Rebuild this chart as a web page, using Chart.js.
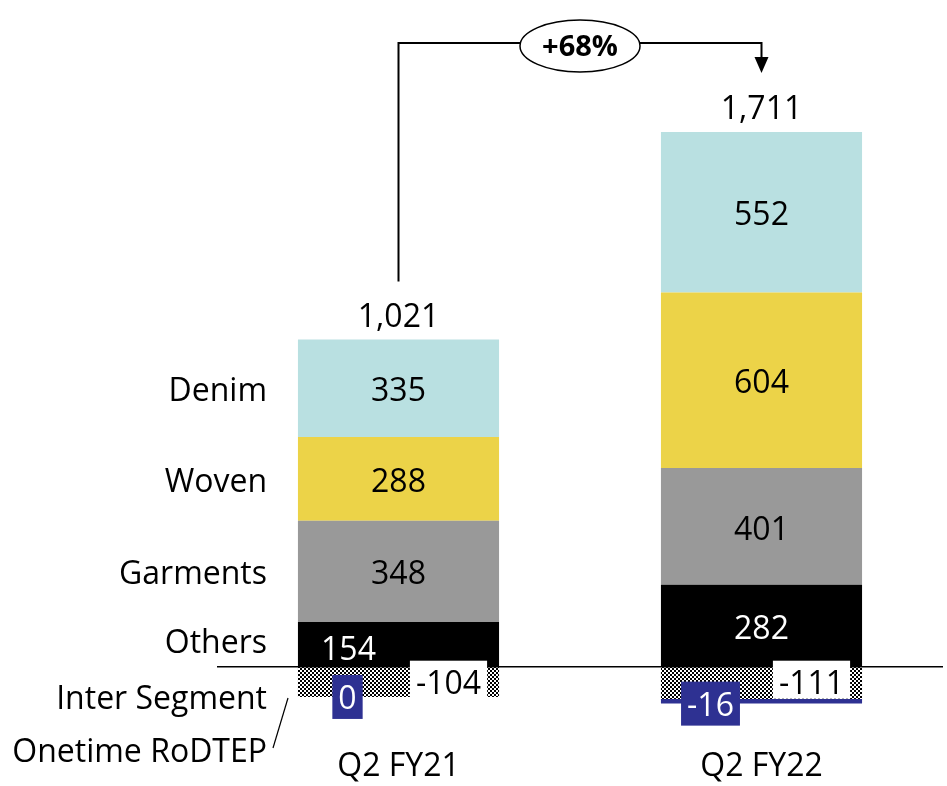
<!DOCTYPE html>
<html>
<head>
<meta charset="utf-8">
<script src="https://cdn.jsdelivr.net/npm/chart.js@4/dist/chart.umd.min.js"></script>
<style>
  html, body { margin: 0; padding: 0; background: #fff; }
  #wrap { width: 947px; height: 786px; }
</style>
</head>
<body>
<div id="wrap"><canvas id="revChart" width="947" height="786"></canvas></div>
<script>
// data
const quarters = ['Q2 FY21', 'Q2 FY22'];
const others = [154, 282];
const garments = [348, 401];
const woven = [288, 604];
const denim = [335, 552];
const interSegment = [-104, -111];
const rodtep = [0, -16];
const totals = [1021, 1711];
const growthLabel = '+68%';

const FONT = '"Open Sans", Lato, sans-serif';
const TY = 4; // baseline nudge for Open Sans vs original font

// checkered fill for inter segment
function checkerPattern() {
    const c = document.createElement('canvas');
    c.width = 4; c.height = 4;
    const g = c.getContext('2d');
    g.fillStyle = '#fff';
    g.fillRect(0, 0, 4, 4);
    g.fillStyle = '#000';
    g.fillRect(0, 0, 2, 2);
    g.fillRect(2, 2, 2, 2);
    return g.createPattern(c, 'repeat');
}

const ctx = document.getElementById('revChart').getContext('2d');

function fmt(n) {
    return n.toLocaleString('en-US');
}

const labelsPlugin = {
    id: 'labelsPlugin',
    afterDatasetsDraw(chart) {
        const c = chart.ctx;
        const area = chart.chartArea;
        const y = chart.scales.y;
        const x = chart.scales.x;
        const zeroY = y.getPixelForValue(0);

        c.save();
        // zero line
        c.strokeStyle = '#000';
        c.lineWidth = 1.5;
        c.beginPath();
        c.moveTo(area.left, zeroY);
        c.lineTo(area.right, zeroY);
        c.stroke();

        c.font = '32px ' + FONT;
        c.textAlign = 'center';
        c.textBaseline = 'middle';

        // positive segments
        for (let d = 0; d < 4; d++) {
            const meta = chart.getDatasetMeta(d);
            meta.data.forEach((el, i) => {
                const v = chart.data.datasets[d].data[i];
                let lx = el.x, ly = (el.y + el.base) / 2;
                // thin segment: label pushed aside like the original
                if (el.base - el.y < 60) { lx -= 50; ly += 3; }
                c.fillStyle = d === 0 ? '#fff' : '#000';
                c.fillText(fmt(v), lx, ly + TY);
            });
        }

        // inter segment: white box to the right
        const metaIs = chart.getDatasetMeta(4);
        const metaRd = chart.getDatasetMeta(5);
        metaIs.data.forEach((el, i) => {
            const txt = fmt(interSegment[i]);
            const cx = el.x + 50;
            const w = c.measureText(txt).width + 12;
            c.fillStyle = '#fff';
            c.fillRect(cx - w / 2, zeroY - 6, w, 38);
            c.fillStyle = '#000';
            c.fillText(txt, cx, zeroY + 14 + TY);
        });

        // rodtep: navy box to the left
        metaRd.data.forEach((el, i) => {
            const txt = fmt(rodtep[i]);
            const isEl = metaIs.data[i];
            const bottom = rodtep[i] < 0 ? el.y : isEl.y;
            const cx = el.x - 51;
            const cy = bottom;
            const w = c.measureText(txt).width + 12;
            c.fillStyle = '#2E3192';
            c.fillRect(cx - w / 2, cy - 22, w, 44);
            c.fillStyle = '#fff';
            c.fillText(txt, cx, cy + TY - 1);
        });

        // totals above bars
        c.fillStyle = '#000';
        const topMeta = chart.getDatasetMeta(3);
        topMeta.data.forEach((el, i) => {
            c.fillText(fmt(totals[i]), el.x, el.y - 26 + TY);
        });

        // category labels
        quarters.forEach((q, i) => {
            c.fillText(q, x.getPixelForValue(i), 763 + TY);
        });

        // series names on the left, aligned with first bar
        c.textAlign = 'right';
        const names = ['Others', 'Garments', 'Woven', 'Denim'];
        for (let d = 0; d < 4; d++) {
            const el = chart.getDatasetMeta(d).data[0];
            let ly = (el.y + el.base) / 2;
            if (d === 0) ly -= 4;
            c.fillText(names[d], 267, ly + TY);
        }
        c.fillText('Inter Segment', 267, 696 + TY);
        c.fillText('Onetime RoDTEP', 267, 749 + TY);

        c.lineWidth = 1.2;
        c.beginPath();
        c.moveTo(288, 698);
        c.lineTo(273, 748);
        c.stroke();

        // growth bracket
        const a = topMeta.data[0];
        const b = topMeta.data[1];
        const lineY = 43;
        c.lineWidth = 2;
        c.beginPath();
        c.moveTo(a.x, a.y - 58);
        c.lineTo(a.x, lineY);
        c.lineTo(b.x, lineY);
        c.lineTo(b.x, 58);
        c.stroke();
        c.beginPath();
        c.moveTo(b.x - 7, 57);
        c.lineTo(b.x + 7, 57);
        c.lineTo(b.x, 73);
        c.closePath();
        c.fill();

        const mx = (a.x + b.x) / 2;
        c.beginPath();
        c.ellipse(mx, 46, 60, 26, 0, 0, Math.PI * 2);
        c.fillStyle = '#fff';
        c.fill();
        c.lineWidth = 1.5;
        c.stroke();
        c.fillStyle = '#000';
        c.textAlign = 'center';
        c.font = 'bold 29px ' + FONT;
        c.fillText(growthLabel, mx, 45 + TY - 1);
        c.restore();
    }
};

new Chart(ctx, {
    type: 'bar',
    data: {
        labels: quarters,
        datasets: [
            { label: 'Others', data: others, backgroundColor: '#000000' },
            { label: 'Garments', data: garments, backgroundColor: '#999999' },
            { label: 'Woven', data: woven, backgroundColor: '#ECD348' },
            { label: 'Denim', data: denim, backgroundColor: '#B9E0E1' },
            { label: 'Inter Segment', data: interSegment, backgroundColor: checkerPattern() },
            { label: 'Onetime RoDTEP', data: rodtep, backgroundColor: '#2E3192' }
        ]
    },
    options: {
        responsive: false,
        animation: false,
        devicePixelRatio: 1,
        layout: {
            padding: { left: 217, right: 4, top: 0, bottom: 3 }
        },
        datasets: {
            bar: {
                barPercentage: 0.554,
                categoryPercentage: 1,
                borderWidth: 0
            }
        },
        plugins: {
            legend: { display: false },
            tooltip: { enabled: false }
        },
        scales: {
            x: { stacked: true, display: false },
            y: { stacked: true, display: false, min: -400, max: 2293 }
        }
    },
    plugins: [labelsPlugin]
});
</script>
</body>
</html>
